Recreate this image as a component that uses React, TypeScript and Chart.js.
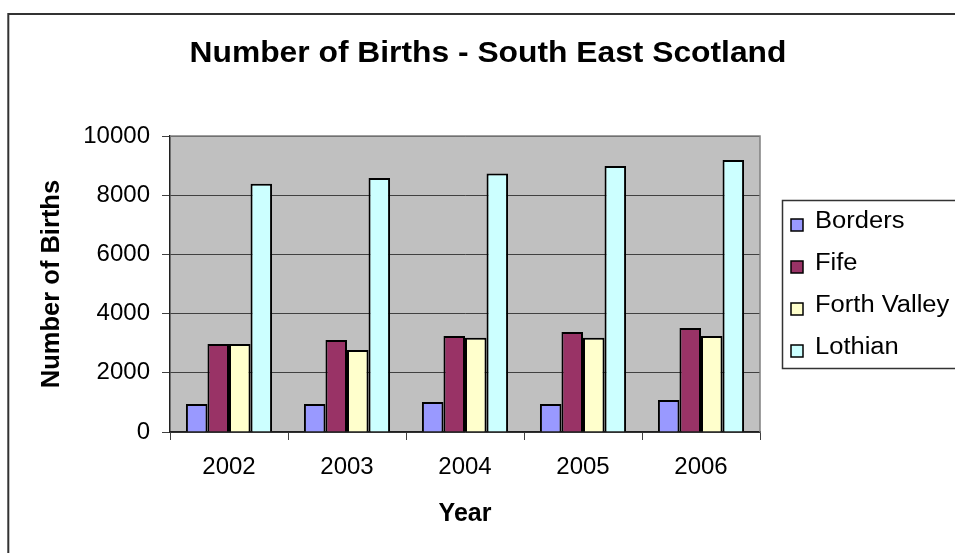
import { useEffect, useRef } from 'react';
import { Chart, registerables } from 'chart.js';

Chart.register(...registerables);

const categories = ['2002', '2003', '2004', '2005', '2006'];
const seriesNames = ['Borders', 'Fife', 'Forth Valley', 'Lothian'];
const borders = [950, 950, 1010, 950, 1080];
const fife = [2970, 3110, 3240, 3380, 3510];
const forthValley = [2970, 2770, 3180, 3180, 3240];
const lothian = [8390, 8580, 8730, 8990, 9190];
const seriesColors = ['#9999FF', '#993366', '#FFFFCC', '#CCFFFF'];
const yMin = 0;
const yMax = 10000;
const yStep = 2000;

const chartTitle = 'Number of Births - South East Scotland';
const yTitle = 'Number of Births';
const xTitle = 'Year';

const FONT = "'Liberation Sans', Arial, Helvetica, sans-serif";

export default function App() {
  const ref = useRef<HTMLCanvasElement>(null);

  useEffect(() => {
    const canvas = ref.current;
    if (!canvas) return;

    const plotBg = {
      id: 'plotBg',
      beforeDraw(chart: any) {
        const { ctx, chartArea: a } = chart;
        ctx.save();
        ctx.fillStyle = '#C0C0C0';
        ctx.fillRect(a.left, a.top, a.right - a.left, a.bottom - a.top);
        ctx.restore();
      },
      beforeDatasetsDraw(chart: any) {
        const { ctx, chartArea: a } = chart;
        ctx.save();
        ctx.strokeStyle = '#808080';
        ctx.lineWidth = 1.5;
        ctx.beginPath();
        ctx.moveTo(a.left, a.top);
        ctx.lineTo(a.right, a.top);
        ctx.lineTo(a.right, a.bottom);
        ctx.stroke();
        ctx.restore();
      },
    };

    const decor = {
      id: 'decor',
      afterDraw(chart: any) {
        const { ctx } = chart;
        ctx.save();
        // outer chart border
        ctx.strokeStyle = '#333333';
        ctx.lineWidth = 2;
        ctx.strokeRect(8.3, 14, 1200, 1200);

        // title
        ctx.fillStyle = '#000';
        ctx.font = `bold 29px ${FONT}`;
        ctx.textAlign = 'center';
        ctx.textBaseline = 'middle';
        ctx.save();
        ctx.translate(488, 54);
        ctx.scale(1.096, 1);
        ctx.fillText(chartTitle, 0, 0);
        ctx.restore();

        // legend
        ctx.strokeStyle = '#333333';
        ctx.lineWidth = 1.5;
        ctx.strokeRect(782.5, 200.5, 300, 168);
        ctx.font = `23px ${FONT}`;
        ctx.textAlign = 'left';
        ctx.textBaseline = 'middle';
        seriesNames.forEach((name, i) => {
          const cy = 221 + i * 42;
          ctx.fillStyle = seriesColors[i];
          ctx.fillRect(791, cy - 2, 12, 12);
          ctx.strokeStyle = '#000';
          ctx.lineWidth = 1.5;
          ctx.strokeRect(791, cy - 2, 12, 12);
          ctx.fillStyle = '#000';
          ctx.save();
          ctx.translate(815, cy + 1);
          ctx.scale(1.11, 1);
          ctx.fillText(name, 0, 0);
          ctx.restore();
        });
        ctx.restore();
      },
    };

    const data = [borders, fife, forthValley, lothian];

    const chart = new Chart(canvas, {
      type: 'bar',
      data: {
        labels: categories,
        datasets: seriesNames.map((name, i) => ({
          label: name,
          data: data[i],
          backgroundColor: seriesColors[i],
          borderColor: '#000000',
          borderWidth: 2,
          categoryPercentage: 0.73,
          barPercentage: 1.0,
        })),
      },
      options: {
        responsive: false,
        animation: false,
        devicePixelRatio: 1,
        layout: { padding: { top: 136, right: 195, bottom: 0, left: 0 } },
        plugins: {
          legend: { display: false },
          title: { display: false },
          tooltip: { enabled: false },
        },
        scales: {
          x: {
            afterFit(scale: any) {
              scale.height = 121;
            },
            grid: {
              drawOnChartArea: false,
              drawTicks: true,
              tickLength: 8,
              color: '#404040',
              lineWidth: 1,
            },
            border: { color: '#202020', width: 1.5 },
            ticks: {
              color: '#000',
              font: { family: FONT, size: 24 },
              padding: 13,
            },
            title: {
              display: true,
              text: xTitle,
              color: '#000',
              font: { family: FONT, size: 25, weight: 'bold' },
              padding: { top: 0, bottom: 24 },
            },
          },
          y: {
            min: yMin,
            max: yMax,
            afterFit(scale: any) {
              scale.width = 170;
            },
            grid: {
              color: '#404040',
              lineWidth: 1,
              drawTicks: true,
              tickLength: 8,
            },
            border: { color: '#202020', width: 1.5 },
            ticks: {
              stepSize: yStep,
              color: '#000',
              font: { family: FONT, size: 24 },
              padding: 12,
              callback: (v: any) => String(v),
            },
            title: {
              display: true,
              text: yTitle,
              color: '#000',
              font: { family: FONT, size: 25.5, weight: 'bold' },
              padding: { top: 36.7, bottom: 0 },
            },
          },
        },
      },
      plugins: [plotBg, decor],
    });

    return () => chart.destroy();
  }, []);

  return (
    <div style={{ position: 'absolute', left: 0, top: 0, width: 955, height: 553, background: '#fff' }}>
      <canvas ref={ref} width={955} height={553} style={{ display: 'block', width: 955, height: 553 }} />
    </div>
  );
}
